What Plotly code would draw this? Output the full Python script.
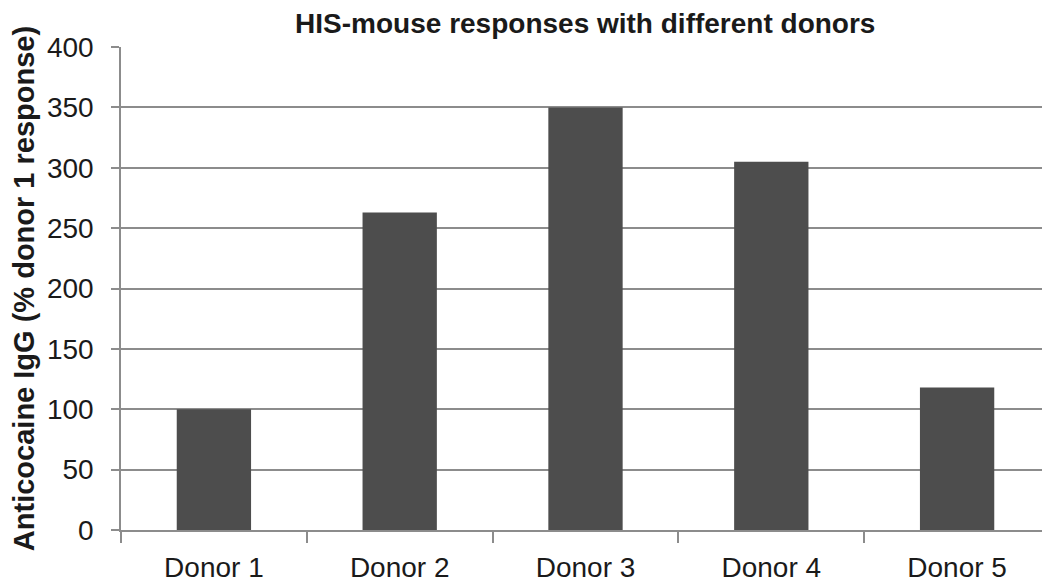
import plotly.graph_objects as go

# --- DATA ---
donors = ["Donor 1", "Donor 2", "Donor 3", "Donor 4", "Donor 5"]
response_pct = [100, 263, 350, 305, 118]
y_ticks = [0, 50, 100, 150, 200, 250, 300, 350, 400]

BAR_COLOR = "#4d4d4d"
GRID_COLOR = "#8c8c8c"
TEXT_COLOR = "#1a1a1a"
FONT = "Liberation Sans, Arial, sans-serif"

# the page body keeps its default 8px margin, so the figure is sized
# 8px smaller and the margins shifted to land the plot area in place
fig = go.Figure(
    go.Bar(
        x=donors,
        y=response_pct,
        marker=dict(color=BAR_COLOR, line=dict(width=0)),
        width=0.4,
    )
)

fig.update_layout(
    width=1042,
    height=575,
    margin=dict(l=113, r=0, t=39, b=53),
    paper_bgcolor="white",
    plot_bgcolor="white",
    showlegend=False,
    font=dict(family=FONT, color=TEXT_COLOR),
    title=dict(
        text="<b>HIS-mouse responses with different donors</b>",
        x=0.554,
        xanchor="center",
        y=0.99,
        yanchor="top",
        pad=dict(t=0),
        font=dict(size=28, family=FONT, color=TEXT_COLOR),
    ),
)

fig.update_xaxes(
    showline=True,
    linecolor=GRID_COLOR,
    linewidth=1.5,
    ticks="outside",
    tickson="boundaries",
    ticklen=11,
    tickcolor=GRID_COLOR,
    tickwidth=1.5,
    ticklabelstandoff=12,
    tickfont=dict(size=28, family=FONT, color=TEXT_COLOR),
    showgrid=False,
)

fig.update_yaxes(
    range=[0, 400],
    tickvals=y_ticks,
    showline=True,
    linecolor=GRID_COLOR,
    linewidth=1.5,
    ticks="outside",
    ticklen=8,
    tickcolor=GRID_COLOR,
    tickwidth=1.5,
    ticklabelstandoff=12,
    showgrid=True,
    gridcolor=GRID_COLOR,
    gridwidth=1.5,
    zeroline=False,
    tickfont=dict(size=28, family=FONT, color=TEXT_COLOR),
    title=dict(
        text="<b>Anticocaine IgG (% donor 1 response)</b>",
        font=dict(size=29, family=FONT, color=TEXT_COLOR),
        standoff=16,
    ),
)

fig.write_html("out.html")
